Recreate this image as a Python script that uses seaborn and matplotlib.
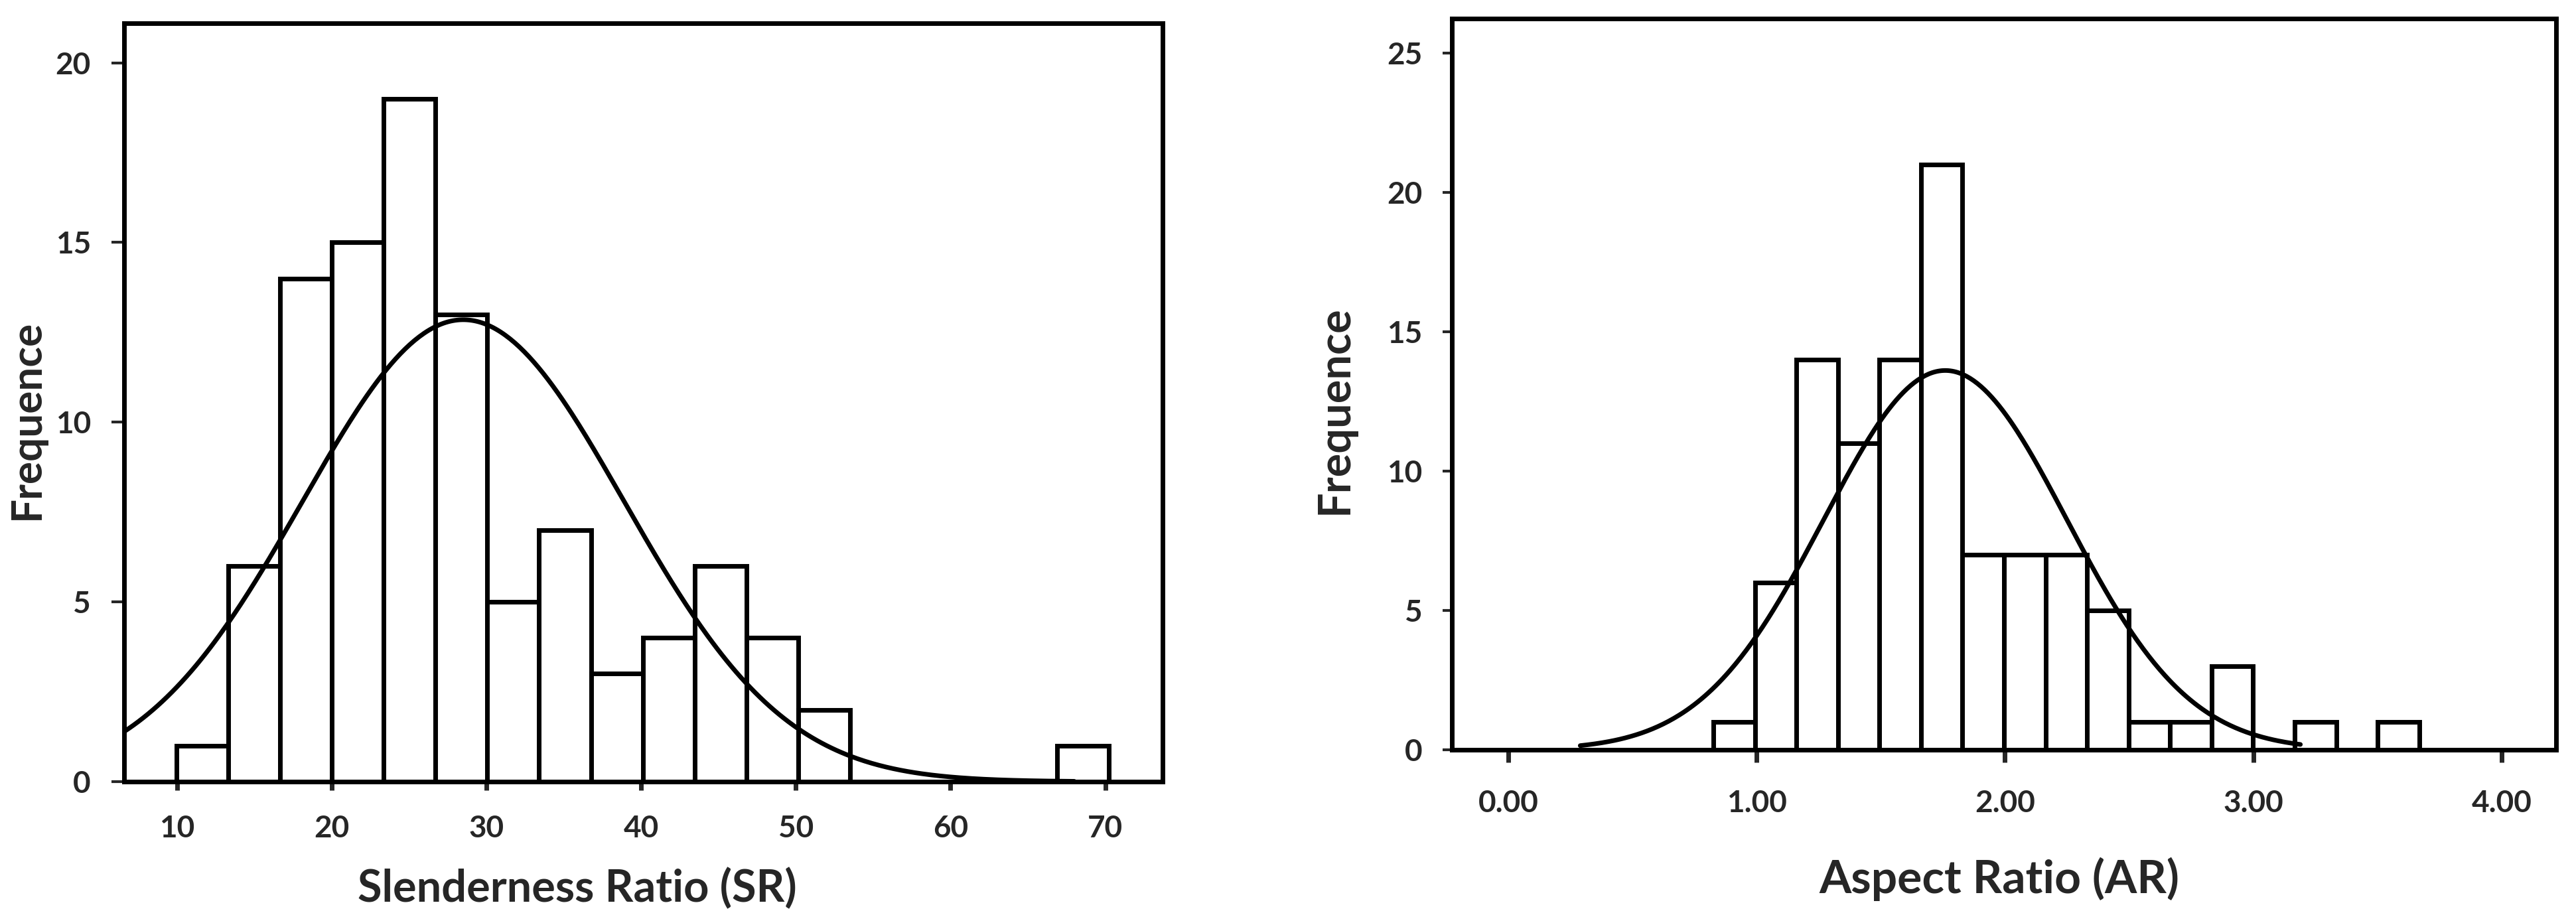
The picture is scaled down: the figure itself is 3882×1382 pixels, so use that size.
import numpy as np
import pandas as pd
import seaborn as sns
import matplotlib.pyplot as plt

# Slenderness ratio histogram (bin counts)
sr_start = 9.95
sr_width = 3.35
sr_counts = [1, 6, 14, 15, 19, 13, 5, 7, 3, 4, 6, 4, 2, 0, 0, 0, 0, 1]
sr_mean, sr_sd = 28.5, 10.4
sr_ticks = [10, 20, 30, 40, 50, 60, 70]

# Aspect ratio histogram
ar_start = 0.826
ar_width = 0.1672
ar_counts = [1, 6, 14, 11, 14, 21, 7, 7, 7, 5, 1, 1, 3, 0, 1, 0, 1]
ar_mean, ar_sd = 1.76, 0.49
ar_ticks = [0.0, 1.0, 2.0, 3.0, 4.0]

sns.set_style("white")
plt.rcParams['font.family'] = ['Lato', 'DejaVu Sans']

LW = 5


def hist_panel(ax, start, width, counts, mean, sd, curve_range):
    n = len(counts)
    edges = start + width * np.arange(n + 1)
    df = pd.DataFrame({'x': (edges[:-1] + edges[1:]) / 2, 'n': counts})
    sns.histplot(data=df, x='x', weights='n', bins=list(edges), color='white',
                 edgecolor='black', linewidth=LW, alpha=1, ax=ax)
    # fitted normal curve
    total = sum(counts)
    xs = np.linspace(curve_range[0], curve_range[1], 400)
    ys = total * width / (sd * np.sqrt(2 * np.pi)) * np.exp(-0.5 * ((xs - mean) / sd) ** 2)
    sns.lineplot(x=xs, y=ys, color='black', linewidth=LW, ax=ax, zorder=5)
    for s in ax.spines.values():
        s.set_visible(True)
        s.set_linewidth(LW)
        s.set_color('black')


fig = plt.figure(figsize=(38.82, 13.82), dpi=100)
fig.patch.set_facecolor('white')

# left panel: Slenderness Ratio
ax1 = fig.add_axes([0.04817, 0.1476, 0.4031, 0.8271])
hist_panel(ax1, sr_start, sr_width, sr_counts, sr_mean, sr_sd, (6.57, 68))
ax1.set_xlim(6.57, 73.7)
ax1.set_ylim(0, 21.1)
ax1.set_xticks(sr_ticks)
ax1.set_xticklabels([str(t) for t in sr_ticks])
ax1.set_yticks([0, 5, 10, 15, 20])
ax1.tick_params(axis='x', direction='out', length=9, width=LW, pad=27,
                labelsize=33, bottom=True)
ax1.tick_params(axis='y', direction='out', length=14, width=3, pad=22,
                labelsize=33, left=True)
ax1.set_xlabel('Slenderness Ratio (SR)', fontsize=48, fontweight='bold', va='center')
ax1.set_ylabel('Frequence', fontsize=46, fontweight='bold', va='center', ha='center')
ax1.xaxis.set_label_coords(0.4364, -0.1417)
ax1.yaxis.set_label_coords(-0.0939, 0.4777)

# right panel: Aspect Ratio
ax2 = fig.add_axes([0.5636, 0.1823, 0.4286, 0.7974])
hist_panel(ax2, ar_start, ar_width, ar_counts, ar_mean, ar_sd, (0.29, 3.19))
ax2.set_xlim(-0.227, 4.219)
ax2.set_ylim(0, 26.24)
ax2.set_xticks(ar_ticks)
ax2.set_xticklabels([f'{t:.2f}' for t in ar_ticks])
ax2.set_yticks([0, 5, 10, 15, 20, 25])
ax2.tick_params(axis='x', direction='out', length=14, width=LW, pad=29,
                labelsize=33, bottom=True)
ax2.tick_params(axis='y', direction='out', length=10, width=3, pad=22,
                labelsize=33, left=True)
ax2.set_xlabel('Aspect Ratio (AR)', fontsize=50, fontweight='bold', va='center')
ax2.set_ylabel('Frequence', fontsize=48, fontweight='bold', va='center', ha='center')
ax2.xaxis.set_label_coords(0.4958, -0.177)
ax2.yaxis.set_label_coords(-0.1058, 0.4646)

for ax in (ax1, ax2):
    for lab in ax.get_xticklabels() + ax.get_yticklabels():
        lab.set_fontweight('bold')

fig.savefig('out.png', dpi=100, facecolor='white')
